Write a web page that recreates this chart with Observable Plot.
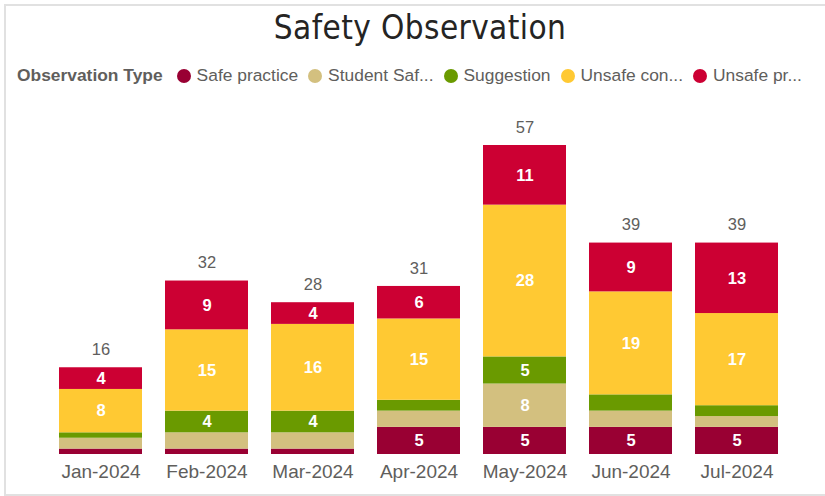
<!DOCTYPE html>
<html><head><meta charset="utf-8">
<script src="https://cdn.jsdelivr.net/npm/d3@7"></script>
<script src="https://cdn.jsdelivr.net/npm/@observablehq/plot@0.6"></script>
<style>
html,body{margin:0;padding:0;background:#fff;}
#frame{position:absolute;left:4px;top:4px;width:900px;height:488px;border-top:2px solid #e1e1e1;border-left:2px solid #e1e1e1;border-bottom:2px solid #e1e1e1;}
#title{position:absolute;left:0;width:840px;top:8px;text-align:center;font-family:"DejaVu Sans Condensed","DejaVu Sans",sans-serif;font-size:33px;color:#252423;letter-spacing:0.4px;}
#legend{position:absolute;left:17px;top:65px;font-family:"Liberation Sans",Arial,sans-serif;font-size:17.4px;color:#605E5C;display:flex;align-items:center;white-space:nowrap;}
#legend .h{font-weight:bold;margin-right:14px;}
#legend .it{display:flex;align-items:center;margin-right:10px;}
#legend .dot{width:14px;height:14px;border-radius:50%;margin-right:6px;}
#chart{position:absolute;left:0;top:90px;}
</style></head>
<body>
<div id="frame"></div>
<div id="title">Safety Observation</div>
<div id="legend"></div>
<div id="chart"></div>
<script>
const months = ["Jan-2024","Feb-2024","Mar-2024","Apr-2024","May-2024","Jun-2024","Jul-2024"];
const types = ["Safe practice","Student Safety","Suggestion","Unsafe condition","Unsafe practice"];
const legendLabels = ["Safe practice","Student Saf...","Suggestion","Unsafe con...","Unsafe pr..."];
const colors = ["#990033","#D3C07F","#6A9A00","#FFC933","#CC0033"];
const safePractice   = [1,1,1,5,5,5,5];
const studentSafety  = [2,3,3,3,8,3,2];
const suggestion     = [1,4,4,2,5,3,2];
const unsafeCondition= [8,15,16,15,28,19,17];
const unsafePractice = [4,9,4,6,11,9,13];
const series = [safePractice, studentSafety, suggestion, unsafeCondition, unsafePractice];

const data = [];
types.forEach((t,i)=>months.forEach((m,j)=>data.push({month:m,type:t,value:series[i][j]})));
const totals = months.map((m,j)=>({month:m,total:d3.sum(series,s=>s[j])}));

const leg = document.getElementById("legend");
leg.innerHTML = '<span class="h">Observation Type</span>' + types.map((t,i)=>`<span class="it"><span class="dot" style="background:${colors[i]}"></span>${legendLabels[i]}</span>`).join("");

const font = '"Liberation Sans",Arial,sans-serif';
const chart = Plot.plot({
  width: 825, height: 400,
  marginLeft: 46, marginRight: 34, marginTop: 55, marginBottom: 36,
  style: {fontFamily: font, background: "transparent"},
  x: {domain: months, paddingInner: 0.22, paddingOuter: 0.11, label: null, tickSize: 0},
  y: {domain: [0,57], axis: null},
  color: {domain: types, range: colors},
  marks: [
    Plot.barY(data, Plot.stackY({order: types}, {x:"month", y:"value", z:"type", fill:"type"})),
    Plot.text(data, Plot.stackY({order: types}, {x:"month", y:"value", z:"type", text: d=> d.value>=4 ? String(d.value) : "", fill:"white", fontSize:16.5, fontWeight:"bold"})),
    Plot.text(totals, {x:"month", y:"total", text: d=>String(d.total), dy:-18, fill:"#605E5C", fontSize:16.5}),
    Plot.axisX({tickSize:0, tickPadding:10, fontSize:19, color:"#605E5C", label:null})
  ]
});
chart.querySelectorAll('[aria-label="x-axis tick label"] text').forEach(t=>t.setAttribute("fill","#605E5C"));
document.getElementById("chart").appendChild(chart);
</script>
</body></html>
